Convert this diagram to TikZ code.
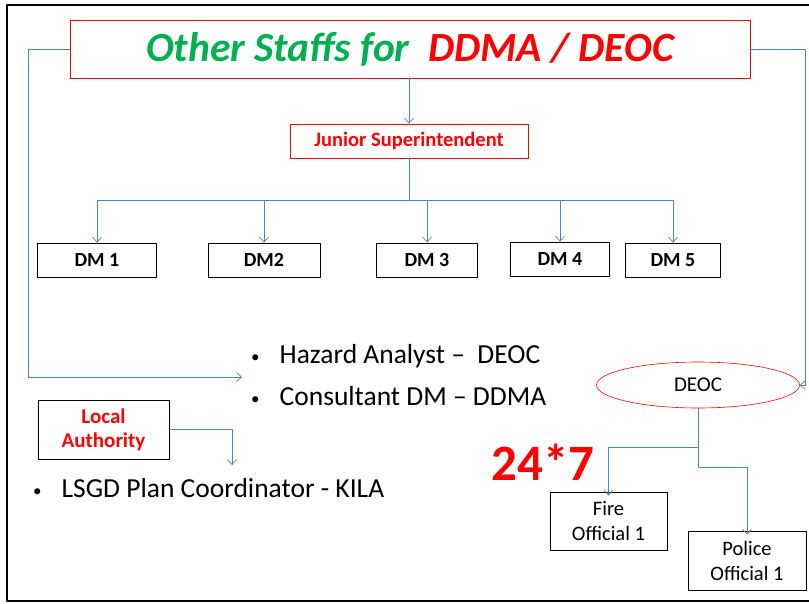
\documentclass[tikz,border=0pt]{standalone}
\usepackage{fontspec}
\setmainfont{Carlito}
\usetikzlibrary{arrows.meta,shapes.geometric}
\definecolor{lineblue}{RGB}{79,129,189}
\definecolor{titlegreen}{RGB}{0,176,80}
\newcommand{\bulletdot}{\raisebox{1pt}{\fontsize{17}{20}\selectfont\symbol{"2022}}}
\tikzset{
	link/.style={draw=lineblue,line width=0.8pt,-{Straight Barb[length=5pt,width=9pt,line width=0.7pt]}},
	plainlink/.style={draw=lineblue,line width=0.8pt},
	redbox/.style={draw=red,line width=0.8pt,inner sep=0pt},
	dmbox/.style={draw=black,line width=0.8pt,inner sep=0pt,minimum height=34pt,font=\fontsize{20}{22}\selectfont\bfseries},
	offbox/.style={draw=black,line width=0.8pt,inner sep=0pt,minimum width=117pt,minimum height=58pt,align=center,font=\fontsize{20.5}{25}\selectfont},
	bullet/.style={anchor=west,inner sep=0pt,font=\fontsize{27.5}{32}\selectfont}
}
\begin{document}
\begin{tikzpicture}[line cap=round,line join=round,x=1pt,y=-1pt]
		\useasboundingbox (0,0) rectangle (809,603);
		\clip (0,0) rectangle (809,603);
		\draw [line width=2pt] (815,5)-- (7,5)-- (7,601)-- (815,601);
		% title and top of the tree
		\node [redbox,minimum width=680pt,minimum height=58pt] (title) at (410,49) {\fontsize{41.5}{46}\selectfont\bfseries\itshape\textcolor{titlegreen}{Other Staffs for}\ \ \textcolor{red}{DDMA / DEOC}};
		\node [redbox,minimum width=238pt,minimum height=34pt,text=red,font=\fontsize{20.5}{22}\selectfont\bfseries] (js) at (409,141) {Junior Superintendent};
		\node [dmbox,minimum width=119pt] (dm1) at (97,260) {DM 1};
		\node [dmbox,minimum width=112pt] (dm2) at (264,260) {DM2};
		\node [dmbox,minimum width=101pt] (dm3) at (427,260) {DM 3};
		\node [dmbox,minimum width=99pt] (dm4) at (560,259) {DM 4};
		\node [dmbox,minimum width=95pt] (dm5) at (673,260) {DM 5};
		\coordinate (split) at (409,200);
		\draw [link] (title.south-|js.north) -- (js.north);
		\draw [plainlink] (js.south) -- (split);
		\foreach \d in {dm1,dm2,dm3,dm4,dm5}
			\draw [link] (split) -| (\d.north);
		% bullets
		\node [bullet] (hazard) at (251,356) {\bulletdot\hspace{20pt}Hazard Analyst \textendash\ \ DEOC};
		\node [bullet] (consult) at (251,396) {\bulletdot\hspace{20pt}Consultant DM \textendash\ DDMA};
		\node [bullet] (lsgd) at (33,488) {\bulletdot\hspace{20pt}LSGD Plan Coordinator - KILA};
		\node [redbox,draw=black,minimum width=131pt,minimum height=59pt,align=center,text=red,font=\fontsize{21}{24}\selectfont\bfseries] (local) at (103.5,429.5) {Local\\Authority};
		\coordinate (hazin) at (242,377);
		\coordinate (lsgdin) at (232,465);
		\draw [link] (title.west) -- (28,49) |- (hazin);
		\draw [link] (local.east) -| (lsgdin);
		% DEOC side
		\node [ellipse,draw=red,line width=0.6pt,minimum width=203pt,minimum height=46pt,inner sep=0pt,font=\fontsize{21}{24}\selectfont] (deoc) at (698,385) {DEOC};
		\draw [link] (title.east) -- (805,49) |- (deoc.east);
		\node [text=red,font=\fontsize{51}{54}\selectfont\bfseries,inner sep=0pt] (shift) at (543,462) {24*7};
		\node [offbox] (fire) at (608.5,521) {Fire\\Official 1};
		\node [offbox,minimum width=118pt,minimum height=59pt] (police) at (747,560.5) {Police\\Official 1};
		\coordinate (fork) at (698,447);
		\draw [plainlink] (deoc.south) -- (fork);
		\draw [link] (fork) -| ([yshift=-4pt]fire.north);
		\draw [link] (fork) -- (698,467) -| ([yshift=-4pt]police.north);
	\end{tikzpicture}
\end{document}
